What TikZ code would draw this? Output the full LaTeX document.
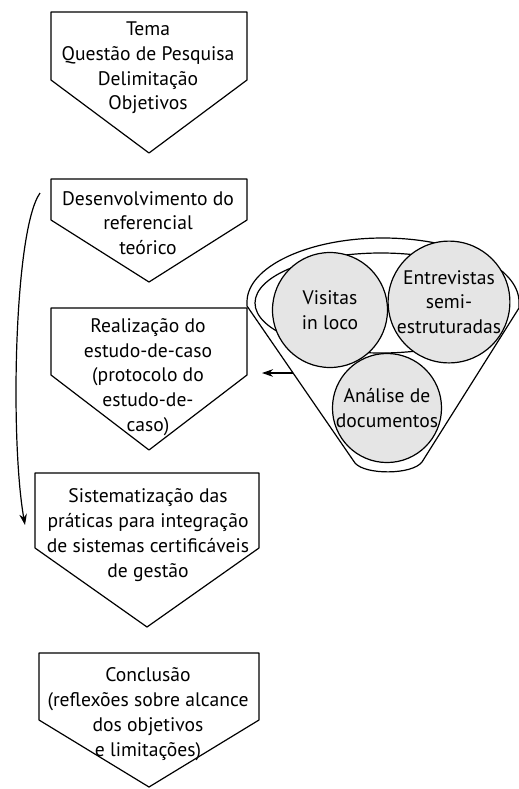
\documentclass[tikz,border=0pt]{standalone}
\usepackage{fontspec}
\setmainfont{PT Sans}
\usetikzlibrary{positioning,arrows.meta}
\newcommand\caixa[5]{\draw[linha] (#1,#2)--(#3,#2)--(#3,#4)--({(#1+#3)/2},#5)--(#1,#4)--cycle;}
\begin{document}
\begin{tikzpicture}[x=0.5pt,y=-0.5pt,>={Stealth[length=5.5pt,width=3.8pt]},line join=round,font=\fontsize{9.8}{12.4}\selectfont]
	\tikzset{
		linha/.style={line width=0.6pt},
		txt/.style={align=center,inner sep=0pt},
		bola/.style={circle,draw,line width=0.6pt,fill=gray!20,inner sep=0pt,align=center}
	}
	\useasboundingbox (0,0) rectangle (519,789);
	% caixas em forma de seta
	\caixa{51}{12}{247}{80}{153}
	\caixa{51}{179}{247}{220}{282}
	\caixa{51}{308}{247}{375}{450}
	\caixa{35}{473}{259}{548}{627}
	\caixa{39}{653}{259}{720}{787}
	\node[txt] (tema) at (148,68) {Tema\\Questão de Pesquisa\\Delimitação\\Objetivos};
	\node[txt] (ref) at (148,223) {Desenvolvimento do\\referencial\\teórico};
	\node[txt] (caso) at (148,377) {Realização do\\estudo-de-caso\\(protocolo do\\estudo-de-\\caso)};
	\node[txt] (sist) at (148,535) {Sistematização das\\práticas para integração\\de sistemas certificáveis\\de gestão};
	\node[txt] (concl) at (148,714) {Conclusão\\(reflexões sobre alcance\\dos objetivos\\e limitações)};
	% funil
	\draw[linha] (247,306) -- (247,302) .. controls (247,267) and (308,238) .. (383,238)
		.. controls (458,238) and (519,267) .. (519,302) -- (519,308) -- (422,462)
		.. controls (412,475) and (365,475) .. (355,463) -- cycle;
	\draw[linha] (381,303) ellipse [x radius=126, y radius=50];
	\node[bola,minimum size=57.5pt] (visitas) at (330,310) {Visitas\\in loco};
	\node[bola,minimum size=57.5pt] (entrev) at (449,302) {Entrevistas\\semi-\\estruturadas};
	\node[bola,minimum size=52pt] (analise) at (387,408) {Análise de\\documentos};
	% setas
	\coordinate (funil) at (293,373);
	\coordinate (c3) at (262,373);
	\draw[linha,->] (funil) -- (c3);
	\coordinate (ini) at (40,193);
	\coordinate (fim) at (25,525);
	\draw[linha,->] (ini) .. controls (14,230) and (10,440) .. (fim);
\end{tikzpicture}
\end{document}
